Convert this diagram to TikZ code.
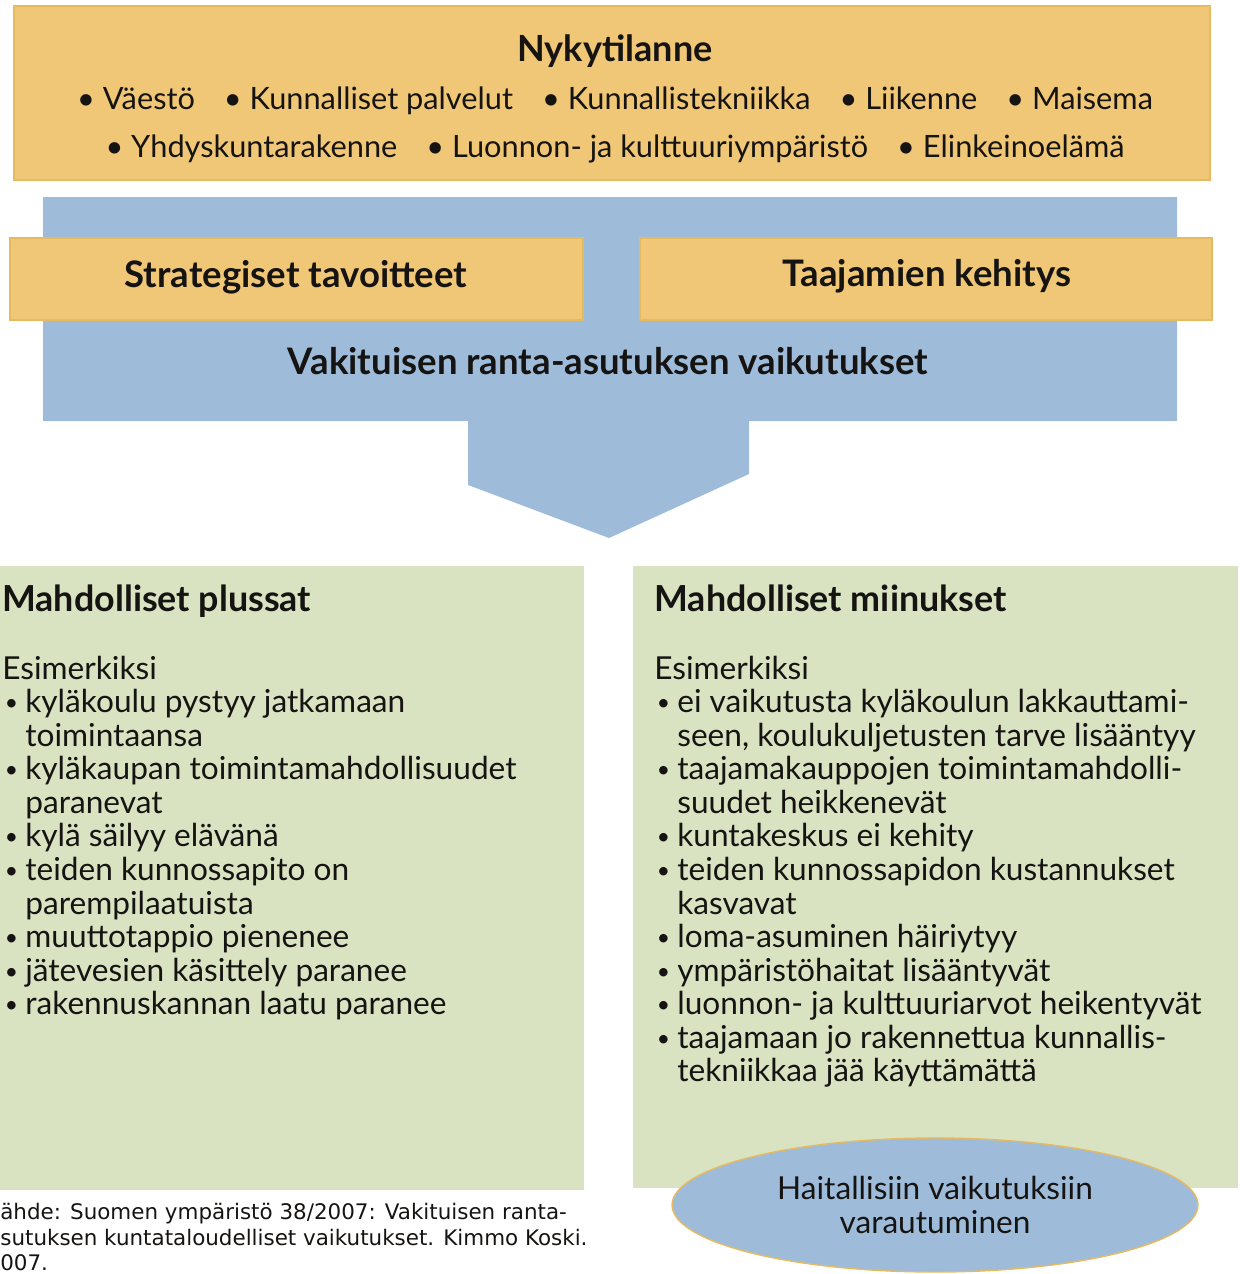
\documentclass[tikz,border=0pt]{standalone}
\usepackage{fontspec}
\setmainfont{Lato}
\newfontfamily\srcfont{DejaVu Sans}
\usetikzlibrary{shapes.geometric,positioning,calc}

\definecolor{orangefill}{RGB}{240,199,118}
\definecolor{orangeline}{RGB}{230,186,96}
\definecolor{bluefill}{RGB}{158,188,217}
\definecolor{greenfill}{RGB}{217,226,193}
\definecolor{ink}{RGB}{22,20,18}

\newcommand{\bul}{\makebox[0.46cm][l]{\hspace{0.05cm}\raisebox{1.2pt}{\fontsize{13}{13}\selectfont•}}}
\newcommand{\hang}{\hspace*{0.46cm}}
\newcommand{\gap}{\hspace{0.58cm}}

\tikzset{
  orangebox/.style={fill=orangefill,draw=orangeline,line width=0.6pt},
  greenbox/.style={fill=greenfill},
  bodytext/.style={text=ink,inner sep=0pt,align=left,
    font=\fontsize{18}{19.1}\selectfont},
  toptext/.style={text=ink,inner sep=0pt,align=center,
    font=\fontsize{17.5}{27.2}\selectfont},
  boxtitle/.style={text=ink,font=\fontsize{20.8}{24}\selectfont\bfseries},
}

\begin{document}
\begin{tikzpicture}[x=0.02cm,y=-0.02cm]

\useasboundingbox (0,0) rectangle (1240,1274);

% top box
\coordinate (t1) at (  14,   6);
\coordinate (t2) at (1210, 180);
\draw[orangebox] (t1) rectangle (t2);
\node[toptext] (nyky) at (615,99)
  {{\fontsize{20.5}{27.2}\selectfont\bfseries Nykytilanne}\\
   • Väestö\gap • Kunnalliset palvelut\gap • Kunnallistekniikka\gap • Liikenne\gap • Maisema\\
   • Yhdyskuntarakenne\gap • Luonnon- ja kulttuuriympäristö\gap • Elinkeinoelämä};

% blue arrow
\coordinate (b1) at (  43, 197);
\coordinate (b2) at (1177, 197);
\coordinate (b3) at (1177, 421);
\coordinate (b4) at ( 749, 421);
\coordinate (b5) at ( 749, 474);
\coordinate (b6) at ( 609, 538);
\coordinate (b7) at ( 468, 485);
\coordinate (b8) at ( 468, 421);
\coordinate (b9) at (  43, 421);
\fill[bluefill] (b1)--(b2)--(b3)--(b4)--(b5)--(b6)--(b7)--(b8)--(b9)--cycle;

\draw[orangebox] ( 10,238) rectangle (583,320);
\draw[orangebox] (640,238) rectangle (1212,320);
\node[boxtitle] (strat) at (296,277) {Strategiset tavoitteet};
\node[boxtitle] (taaj)  at (927,276) {Taajamien kehitys};
\node[boxtitle] (vaik)  at (608,361) {Vakituisen ranta-asutuksen vaikutukset};

% green boxes
\fill[greenbox] (  0,566) rectangle ( 584,1190);
\fill[greenbox] (633,566) rectangle (1238,1188);

\node[bodytext,anchor=north west] (plus) at (2,585)
  {{\fontsize{20.4}{19.1}\selectfont\bfseries Mahdolliset plussat}\\[19.1pt]
   Esimerkiksi\\
   \bul kyläkoulu pystyy jatkamaan\\
   \hang toimintaansa\\
   \bul kyläkaupan toimintamahdollisuudet\\
   \hang paranevat\\
   \bul kylä säilyy elävänä\\
   \bul teiden kunnossapito on\\
   \hang parempilaatuista\\
   \bul muuttotappio pienenee\\
   \bul jätevesien käsittely paranee\\
   \bul rakennuskannan laatu paranee};

\node[bodytext,anchor=north west] (miinus) at (654,585)
  {{\fontsize{20.4}{19.1}\selectfont\bfseries Mahdolliset miinukset}\\[19.1pt]
   Esimerkiksi\\
   \bul ei vaikutusta kyläkoulun lakkauttami-\\
   \hang seen, koulukuljetusten tarve lisääntyy\\
   \bul taajamakauppojen toimintamahdolli-\\
   \hang suudet heikkenevät\\
   \bul kuntakeskus ei kehity\\
   \bul teiden kunnossapidon kustannukset\\
   \hang kasvavat\\
   \bul loma-asuminen häiriytyy\\
   \bul ympäristöhaitat lisääntyvät\\
   \bul luonnon- ja kulttuuriarvot heikentyvät\\
   \bul taajamaan jo rakennettua kunnallis-\\
   \hang tekniikkaa jää käyttämättä};

% ellipse
\node[ellipse,fill=bluefill,draw=orangeline,line width=0.8pt,
  minimum width=10.52cm,minimum height=2.68cm,text=ink,align=center,
  font=\fontsize{18}{19.1}\selectfont] (varaus) at (935,1205)
  {Haitallisiin vaikutuksiin\\varautuminen};

% source
\node[anchor=north west,inner sep=0pt,align=left,text=ink,
  font=\srcfont\fontsize{12.2}{14.5}\selectfont] (lahde) at (0,1203)
  {ähde: Suomen ympäristö 38/2007: Vakituisen ranta-\\
   sutuksen kuntataloudelliset vaikutukset. Kimmo Koski.\\
   007.};

\end{tikzpicture}
\end{document}
